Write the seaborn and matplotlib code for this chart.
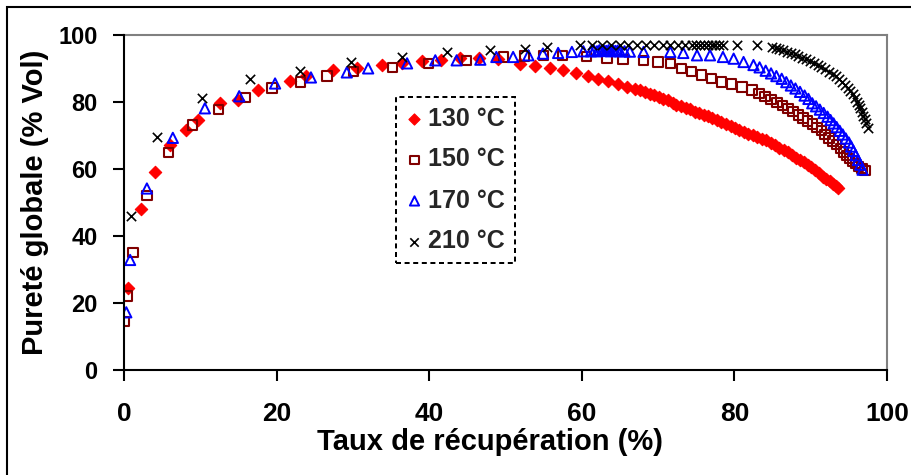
import matplotlib
matplotlib.use("Agg")
import matplotlib.pyplot as plt
import seaborn as sns
from matplotlib.patches import Rectangle

# ---------------- data ----------------
labels = ["130 °C", "150 °C", "170 °C", "210 °C"]

x130 = [0.5, 2.2, 4.1, 6.0, 8.1, 9.7, 12.6, 14.9, 17.5, 21.8, 23.8, 27.4, 30.5, 33.8, 36.5,
        39.0, 41.5, 44.0, 46.5, 49.0, 51.9, 53.9, 55.8, 57.5, 59.3, 60.8, 62.1, 63.4, 64.7,
        65.9, 67.0, 67.6, 68.3, 68.9, 69.5, 70.1, 70.7, 71.3, 71.9, 72.4, 73.0, 73.6, 74.2,
        74.8, 75.4, 76.0, 76.5, 77.1, 77.7, 78.3, 78.9, 79.5, 80.1, 80.6, 81.2, 81.8, 82.4,
        83.0, 83.6, 84.2, 84.8, 85.3, 85.9, 86.5, 87.0, 87.6, 88.1, 88.6, 89.1, 89.6, 90.1,
        90.6, 91.1, 91.6, 92.0, 92.5, 92.9, 93.3, 93.6]
y130 = [24.5, 48.0, 59.0, 67.0, 71.5, 74.5, 79.5, 80.5, 83.5, 86.0, 87.5, 89.4, 90.0, 90.9, 91.5,
        92.0, 92.5, 93.0, 93.0, 92.8, 91.3, 90.6, 90.0, 89.4, 88.4, 87.6, 86.8, 86.0, 85.3,
        84.5, 83.9, 83.5, 83.0, 82.4, 82.0, 81.5, 80.9, 80.4, 79.5, 78.9, 78.6, 78.2, 77.7,
        77.0, 76.6, 76.0, 75.6, 75.0, 74.5, 73.8, 73.4, 72.8, 72.1, 71.6, 71.0, 70.4, 70.0,
        69.5, 69.0, 68.5, 67.7, 67.0, 66.3, 65.6, 64.9, 64.0, 63.3, 62.6, 61.9, 61.1, 60.4,
        59.5, 58.6, 57.6, 56.9, 56.2, 55.5, 54.8, 54.3]

x150 = [0.1, 0.4, 1.2, 3.0, 5.8, 9.0, 12.4, 15.9, 19.4, 23.1, 26.6, 30.1, 35.2, 39.9, 44.9,
        49.7, 52.5, 55.0, 57.5, 60.6, 63.3, 65.4, 68.1, 70.0, 71.6, 73.1, 74.4, 75.7, 77.0,
        78.3, 79.6, 81.0, 82.3, 83.2, 84.0, 84.8, 85.6, 86.3, 87.0, 87.7, 88.4, 89.0, 89.6,
        90.2, 90.8, 91.4, 91.9, 92.4, 92.9, 93.4, 93.9, 94.3, 94.7, 95.1, 95.5, 95.9, 96.3,
        96.7, 97.1]
y150 = [14.5, 22.0, 35.0, 52.0, 64.8, 73.0, 77.7, 81.2, 84.1, 85.9, 87.6, 88.9, 90.2, 91.3, 92.3,
        93.3, 93.6, 93.8, 93.8, 93.5, 93.0, 92.5, 92.2, 91.8, 91.4, 89.9, 88.9, 87.9, 86.9,
        85.9, 85.2, 84.4, 83.4, 82.5, 81.6, 80.7, 79.7, 78.9, 78.0, 77.0, 76.0, 75.1, 74.2,
        73.3, 72.3, 71.3, 70.2, 69.2, 68.2, 67.2, 66.0, 65.0, 64.0, 63.1, 62.3, 61.5, 60.7,
        60.0, 59.5]

x170 = [0.3, 0.8, 3.0, 6.4, 10.6, 15.1, 19.8, 24.5, 29.2, 32.0, 37.1, 40.8, 43.6, 46.7, 48.8,
        51.0, 53.0, 54.9, 56.9, 58.7, 60.2, 61.2, 61.6, 62.0, 62.3, 62.6, 62.9, 63.2, 63.5,
        63.8, 64.1, 64.4, 64.7, 65.0, 65.6, 66.3, 68.1, 71.6, 73.3, 75.1, 76.8, 78.5, 79.9,
        81.2, 82.5, 83.3, 84.1, 84.8, 85.5, 86.2, 86.8, 87.4, 88.0, 88.6, 89.2, 89.7, 90.2,
        90.7, 91.2, 91.7, 92.2, 92.6, 93.0, 93.4, 93.8, 94.2, 94.6, 95.0, 95.3, 95.6, 95.9,
        96.2, 96.5, 96.8]
y170 = [17.2, 32.8, 54.1, 69.2, 78.0, 81.6, 85.4, 87.2, 88.7, 89.9, 91.4, 92.3, 92.3, 92.5, 93.3,
        93.3, 93.8, 94.3, 94.5, 94.8, 95.0, 95.0, 95.2, 95.0, 95.3, 95.1, 95.2, 95.1, 95.3,
        95.0, 95.2, 95.1, 95.2, 95.0, 95.0, 94.9, 94.8, 94.8, 94.5, 93.8, 93.8, 93.3, 92.8,
        91.8, 90.9, 90.2, 89.2, 88.4, 87.6, 86.8, 85.8, 84.8, 83.9, 82.9, 81.8, 80.8, 79.5,
        78.6, 77.6, 76.6, 75.5, 74.5, 73.5, 72.4, 71.3, 70.2, 69.0, 67.8, 66.6, 65.3, 64.0,
        62.6, 61.2, 59.7]

x210 = [0.9, 4.3, 10.2, 16.5, 23.1, 29.7, 36.4, 42.3, 48.0, 52.6, 55.4, 59.8, 61.3, 62.6, 63.8,
        65.0, 66.1, 67.2, 68.4, 69.5, 70.6, 71.6, 72.6, 73.5, 74.4, 75.0, 75.5, 76.0, 76.5,
        77.0, 77.5, 78.0, 78.5, 80.3, 82.9, 84.9, 85.4, 85.9, 86.4, 86.9, 87.4, 87.9, 88.4,
        88.9, 89.4, 89.9, 90.4, 90.9, 91.4, 91.9, 92.4, 92.9, 93.3, 93.7, 94.1, 94.5, 94.9,
        95.2, 95.5, 95.8, 96.1, 96.3, 96.5, 96.7, 96.9, 97.1, 97.3, 97.5]
y210 = [46.0, 69.5, 81.2, 86.7, 89.2, 91.8, 93.3, 94.8, 95.3, 95.8, 96.3, 96.8, 96.8, 96.8, 96.8,
        96.8, 96.8, 96.8, 96.8, 96.8, 96.8, 96.8, 96.8, 96.8, 96.8, 96.8, 96.8, 96.8, 96.8,
        96.8, 96.8, 96.8, 96.8, 96.8, 96.8, 96.3, 96.0, 95.6, 95.3, 94.9, 94.5, 94.1, 93.6,
        93.1, 92.6, 92.1, 91.6, 91.0, 90.3, 89.6, 88.9, 88.2, 87.5, 86.7, 85.9, 85.0, 84.0,
        83.2, 82.2, 81.1, 80.0, 79.0, 78.0, 77.0, 75.8, 74.7, 73.5, 72.0]

xticks = [0, 20, 40, 60, 80, 100]
yticks = [0, 20, 40, 60, 80, 100]
xlabel = "Taux de récupération (%)"
ylabel = "Pureté globale (% Vol)"

# ---------------- style ----------------
sns.set_theme(style="white")
plt.rcParams['font.family'] = ['Liberation Sans', 'DejaVu Sans']

W, H = 912, 475
fig = plt.figure(figsize=(W / 100, H / 100), dpi=100)
fig.patch.set_facecolor("white")
ax = fig.add_axes([124 / W, 1 - 370 / H, 763 / W, 335.5 / H])
ax.set_facecolor("white")

# figure border (only top/left visible)
fig.patches.append(Rectangle((7 / W, -0.1), 2.0, (H - 7) / H + 0.1, transform=fig.transFigure,
                             fill=False, edgecolor="black", linewidth=1.5, zorder=0))

sns.scatterplot(x=x130, y=y130, marker="D", s=40, color="#FF0000", edgecolor="#FF0000",
                linewidth=0.8, label=labels[0], ax=ax, zorder=3)
sns.scatterplot(x=x150, y=y150, marker="s", s=46, color="#800000", facecolor="none",
                edgecolor="#800000", linewidth=1.5, label=labels[1], ax=ax, zorder=4)
sns.scatterplot(x=x170, y=y170, marker="^", s=55, color="#0000FF", facecolor="none",
                edgecolor="#0000FF", linewidth=1.4, label=labels[2], ax=ax, zorder=5)
sns.scatterplot(x=x210, y=y210, marker="x", s=45, color="black", linewidth=1.2,
                label=labels[3], ax=ax, zorder=6)

ax.set_xlim(0, 100)
ax.set_ylim(0, 100)
ax.set_xticks(xticks)
ax.set_yticks(yticks)
ax.set_xticklabels([str(v) for v in xticks], fontsize=19, fontweight="bold")
ax.set_yticklabels([str(v) for v in yticks], fontsize=17, fontweight="bold")
ax.tick_params(axis="x", bottom=True, direction="out", length=8, width=1.5, color="black",
               pad=15, labelcolor="black")
ax.tick_params(axis="y", left=True, direction="out", length=8, width=1.5, color="black",
               pad=11, labelcolor="black")

for side in ["left", "bottom"]:
    ax.spines[side].set_color("black")
    ax.spines[side].set_linewidth(1.5)
for side in ["top", "right"]:
    ax.spines[side].set_color("#808080")
    ax.spines[side].set_linewidth(1.5)
for sp in ax.spines.values():
    sp.set_visible(True)
ax.spines["left"].set_zorder(10)
ax.spines["bottom"].set_zorder(10)

ax.set_xlabel(xlabel, fontsize=21, fontweight="bold", color="black")
ax.set_ylabel(ylabel, fontsize=21, fontweight="bold", color="black")
ax.xaxis.set_label_coords(0.48, -0.174)
ax.yaxis.set_label_coords(-0.098, 0.5)

leg = ax.legend(loc="upper left", bbox_to_anchor=((396 - 124) / 763, (370 - 97) / 335.5),
                borderaxespad=0, frameon=True, fancybox=False, shadow=False,
                prop={"size": 18, "weight": "bold"}, labelspacing=0.68, borderpad=0.38,
                handlelength=0.72, handletextpad=0.2, markerscale=0.9, framealpha=1)
frame = leg.get_frame()
frame.set_edgecolor("black")
frame.set_facecolor("white")
frame.set_linewidth(1.44)
frame.set_linestyle((0, (2.5, 1.8)))
leg.set_zorder(20)

fig.savefig("out.png", dpi=100)
